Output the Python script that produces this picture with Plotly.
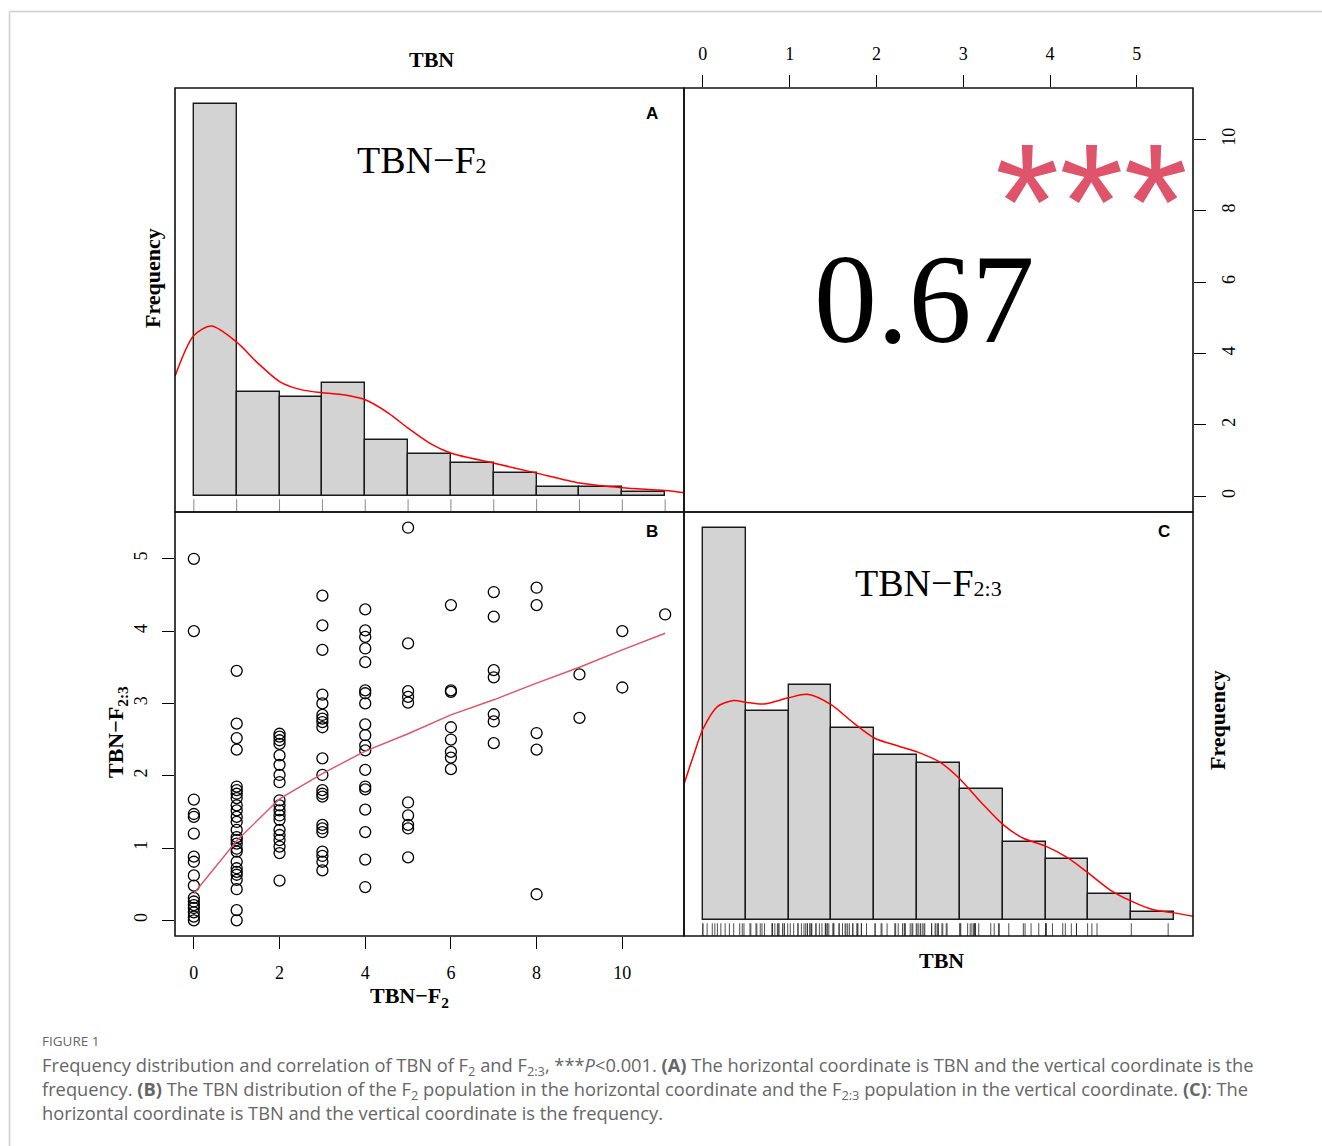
import plotly.graph_objects as go

W, H = 1322, 1146

# ---------------- data ----------------
f2_bin_edges = [0, 1, 2, 3, 4, 5, 6, 7, 8, 9, 10, 11]
f2_counts = [83, 22, 21, 24, 12, 9, 7, 5, 2, 2, 1]

f23_bin_edges = [0, 0.5, 1, 1.5, 2, 2.5, 3, 3.5, 4, 4.5, 5, 5.5]
f23_counts = [45, 24, 27, 22, 19, 18, 15, 9, 7, 3, 1]

# density curves (in count units of each histogram)
f2_dens_x = [-0.44, 0.0, 0.41, 1.0, 1.5, 2.01, 2.52, 3.01, 3.53, 4.0, 4.54, 5.0, 5.51,
             6.01, 7.01, 8.0, 9.01, 10.0, 11.0, 11.47]
f2_dens_y = [25.4, 34.0, 36.0, 32.6, 28.1, 24.2, 22.5, 21.9, 21.4, 20.4, 17.6, 14.4, 11.2,
             9.1, 7.0, 4.9, 2.8, 1.8, 1.2, 0.7]

f23_dens_x = [-0.22, -0.105, 0.0, 0.17, 0.36, 0.5, 0.71, 1.0, 1.22, 1.5, 1.76, 2.0, 2.27,
              2.5, 2.77, 3.0, 3.24, 3.5, 3.74, 4.0, 4.25, 4.5, 4.75, 5.0, 5.26, 5.5, 5.72]
f23_dens_y = [15.6, 19.0, 21.9, 24.5, 25.2, 25.0, 24.8, 25.5, 25.9, 24.7, 22.6, 20.9, 20.0,
              19.3, 18.1, 16.2, 13.6, 11.0, 9.4, 8.5, 7.2, 5.4, 3.5, 2.2, 1.2, 0.85, 0.46]

# scatter: TBN-F2:3 values grouped by TBN-F2 level
f2_levels = [0, 1, 2, 3, 4, 5, 6, 7, 8, 9, 10, 11]
f23_by_f2 = [
    [5.0, 4.0, 1.67, 1.47, 1.43, 1.20, 0.88, 0.81, 0.62, 0.48, 0.31, 0.26, 0.21, 0.17, 0.11, 0.05, 0.0],
    [3.45, 2.72, 2.52, 2.36, 1.85, 1.80, 1.75, 1.69, 1.59, 1.52, 1.43, 1.36, 1.25, 1.15, 1.11, 1.06,
     0.99, 0.95, 0.81, 0.72, 0.67, 0.63, 0.56, 0.43, 0.14, 0.0],
    [2.58, 2.54, 2.49, 2.44, 2.28, 2.15, 2.01, 1.91, 1.66, 1.59, 1.52, 1.45, 1.39, 1.25, 1.18, 1.11,
     1.02, 0.93, 0.55],
    [4.49, 4.08, 3.74, 3.12, 3.0, 2.84, 2.79, 2.74, 2.67, 2.24, 2.01, 1.80, 1.75, 1.71, 1.32, 1.27,
     1.22, 0.95, 0.89, 0.81, 0.69],
    [4.30, 4.01, 3.92, 3.76, 3.57, 3.18, 3.14, 3.00, 2.71, 2.56, 2.42, 2.35, 2.08, 1.85, 1.81, 1.53,
     1.22, 0.84, 0.46],
    [5.43, 3.83, 3.17, 3.09, 3.01, 1.63, 1.45, 1.32, 1.27, 0.87],
    [4.36, 3.18, 3.16, 2.67, 2.50, 2.33, 2.25, 2.09],
    [4.54, 4.20, 3.46, 3.36, 2.85, 2.75, 2.45],
    [4.60, 4.36, 2.59, 2.36, 0.36],
    [3.40, 2.80],
    [4.00, 3.22],
    [4.23],
]

lowess_x = [0, 1, 2, 3, 4, 5, 6, 7, 8, 9, 10, 11]
lowess_y = [0.37, 1.10, 1.68, 2.03, 2.34, 2.58, 2.84, 3.05, 3.28, 3.50, 3.74, 3.97]

correlation_text = "0.67"
signif_text = "***"

top_ticks = [0, 1, 2, 3, 4, 5]
right_ticks = [0, 2, 4, 6, 8, 10]
left_ticks = [0, 1, 2, 3, 4, 5]
bottom_ticks = [0, 2, 4, 6, 8, 10]

caption_lines = [
    "Frequency distribution and correlation of TBN of F<sub>2</sub> and F<sub>2:3</sub>, "
    "***<i>P</i>&lt;0.001. <b>(A)</b> The horizontal coordinate is TBN and the vertical "
    "coordinate is the",
    "frequency. <b>(B)</b> The TBN distribution of the F<sub>2</sub> population in the "
    "horizontal coordinate and the F<sub>2:3</sub> population in the vertical coordinate. "
    "<b>(C)</b>: The",
    "horizontal coordinate is TBN and the vertical coordinate is the frequency.",
]

# ---------------- helpers ----------------
def px(x):
    return x / W


def py(y):
    return 1 - y / H


def ext(lo, hi):
    d = (hi - lo) * 0.04
    return [lo - d, hi + d]


f2_x = []
f23_y = []
for lvl, vals in zip(f2_levels, f23_by_f2):
    for v in vals:
        f2_x.append(lvl)
        f23_y.append(v)

f2_range = ext(min(f2_x), max(f2_x))
f23_range = ext(min(f23_y), max(f23_y))
hA_y = ext(0, max(f2_counts))
hC_y = ext(0, max(f23_counts))
hA_x = ext(f2_bin_edges[0], f2_bin_edges[-1])
hC_x = ext(f23_bin_edges[0], f23_bin_edges[-1])

serif = "Liberation Serif"
sans = "Liberation Sans"

fig = go.Figure()

# ---- panel A histogram ----
fig.add_trace(go.Bar(
    x=[(a + b) / 2 for a, b in zip(f2_bin_edges[:-1], f2_bin_edges[1:])],
    y=f2_counts,
    width=[b - a for a, b in zip(f2_bin_edges[:-1], f2_bin_edges[1:])],
    marker=dict(color="#D3D3D3", line=dict(color="#1a1a1a", width=1.4)),
    xaxis="x", yaxis="y", showlegend=False, hoverinfo="skip"))
fig.add_trace(go.Scatter(x=f2_dens_x, y=f2_dens_y, mode="lines",
                         line=dict(color="#FF0000", width=1.5, shape="spline", smoothing=0.8),
                         xaxis="x", yaxis="y", showlegend=False, hoverinfo="skip"))
rug_len_A = (hA_y[1] - hA_y[0]) * 0.03
rx, ry = [], []
for v in sorted(set(f2_x)):
    rx += [v, v, None]
    ry += [hA_y[0], hA_y[0] + rug_len_A, None]
fig.add_trace(go.Scatter(x=rx, y=ry, mode="lines", line=dict(color="#888888", width=1),
                         xaxis="x", yaxis="y", showlegend=False, hoverinfo="skip"))

# ---- top-right panel (axes only) ----
fig.add_trace(go.Scatter(x=[None], y=[None], xaxis="x2", yaxis="y2", showlegend=False))

# ---- panel B scatter ----
fig.add_trace(go.Scatter(x=f2_x, y=f23_y, mode="markers",
                         marker=dict(symbol="circle-open", size=11, color="black",
                                     line=dict(width=1.3, color="black")),
                         xaxis="x3", yaxis="y3", showlegend=False, hoverinfo="skip"))
fig.add_trace(go.Scatter(x=lowess_x, y=lowess_y, mode="lines",
                         line=dict(color="#DF536B", width=1.4),
                         xaxis="x3", yaxis="y3", showlegend=False, hoverinfo="skip"))

# ---- panel C histogram ----
fig.add_trace(go.Bar(
    x=[(a + b) / 2 for a, b in zip(f23_bin_edges[:-1], f23_bin_edges[1:])],
    y=f23_counts,
    width=[b - a for a, b in zip(f23_bin_edges[:-1], f23_bin_edges[1:])],
    marker=dict(color="#D3D3D3", line=dict(color="#1a1a1a", width=1.4)),
    xaxis="x4", yaxis="y4", showlegend=False, hoverinfo="skip"))
fig.add_trace(go.Scatter(x=f23_dens_x, y=f23_dens_y, mode="lines",
                         line=dict(color="#FF0000", width=1.5, shape="spline", smoothing=0.8),
                         xaxis="x4", yaxis="y4", showlegend=False, hoverinfo="skip"))
rug_len_C = (hC_y[1] - hC_y[0]) * 0.03
rx, ry = [], []
for v in f23_y:
    rx += [v, v, None]
    ry += [hC_y[0], hC_y[0] + rug_len_C, None]
fig.add_trace(go.Scatter(x=rx, y=ry, mode="lines", line=dict(color="#222222", width=0.8),
                         xaxis="x4", yaxis="y4", showlegend=False, hoverinfo="skip"))

hidden = dict(visible=False, showgrid=False, zeroline=False)
tickfont = dict(family=serif, size=18, color="black")
shown = dict(showgrid=False, zeroline=False, showline=False, ticks="outside", ticklen=12,
             tickwidth=1.3, tickcolor="black", tickfont=tickfont)

dxA = [px(175), px(684)]
dxR = [px(684), px(1193)]
dyT = [py(512), py(88)]
dyB = [py(936), py(512)]

fig.update_layout(
    width=W, height=H,
    margin=dict(l=0, r=0, t=0, b=0),
    paper_bgcolor="white", plot_bgcolor="rgba(0,0,0,0)",
    bargap=0,
    xaxis=dict(domain=dxA, range=hA_x, anchor="y", **hidden),
    yaxis=dict(domain=dyT, range=hA_y, anchor="x", **hidden),
    xaxis2=dict(domain=dxR, range=f23_range, anchor="y2", side="top",
                tickvals=top_ticks, ticklabelstandoff=8, **shown),
    yaxis2=dict(domain=dyT, range=f2_range, anchor="x2", side="right",
                tickvals=right_ticks, tickangle=-90, ticklabelstandoff=7, **shown),
    xaxis3=dict(domain=dxA, range=f2_range, anchor="y3", side="bottom",
                tickvals=bottom_ticks, ticklabelstandoff=8, **shown),
    yaxis3=dict(domain=dyB, range=f23_range, anchor="x3", side="left",
                tickvals=left_ticks, tickangle=-90, ticklabelstandoff=8, **shown),
    xaxis4=dict(domain=dxR, range=hC_x, anchor="y4", **hidden),
    yaxis4=dict(domain=dyB, range=hC_y, anchor="x4", **hidden),
)

shapes = []
box_line = dict(color="#111111", width=1.6)
for x0, y0, x1, y1 in [(175, 88, 684, 512), (684, 88, 1193, 512),
                       (175, 512, 684, 936), (684, 512, 1193, 936)]:
    shapes.append(dict(type="rect", xref="paper", yref="paper",
                       x0=px(x0), x1=px(x1), y0=py(y1), y1=py(y0),
                       line=box_line, fillcolor="rgba(0,0,0,0)", layer="above"))
# card border
shapes.append(dict(type="line", xref="paper", yref="paper", x0=px(9.5), x1=px(9.5),
                   y0=0, y1=py(11.5), line=dict(color="#cfcfcf", width=1.5)))
shapes.append(dict(type="line", xref="paper", yref="paper", x0=px(9.5), x1=1,
                   y0=py(11.5), y1=py(11.5), line=dict(color="#cfcfcf", width=1.5)))
fig.update_layout(shapes=shapes)


def ann(text, x, y, size, family=serif, color="black", angle=0, xanchor="center",
        yanchor="middle", align="center"):
    return dict(text=text, x=px(x), y=py(y), xref="paper", yref="paper",
                showarrow=False, textangle=angle, xanchor=xanchor, yanchor=yanchor,
                align=align, font=dict(family=family, size=size, color=color))


small = '<span style="font-size:22px">{}</span>'

annotations = [
    ann("<b>TBN</b>", 431, 60, 22),
    ann("<b>Frequency</b>", 152, 278, 22, angle=-90),
    ann("TBN\u2212F" + small.format("2"), 422, 160, 38),
    ann("<b>A</b>", 652, 113, 17, family=sans),
    ann(correlation_text, 925, 300, 126),
    ann(signif_text, 1091, 202, 165, family=sans, color="#DF536B"),
    ann("<b>B</b>", 652, 531, 17, family=sans),
    ann("<b>C</b>", 1164, 531, 17, family=sans),
    ann("TBN\u2212F" + small.format("2:3"), 928, 583, 38),
    ann("<b>TBN\u2212F<sub>2:3</sub></b>", 117, 732, 22, angle=-90),
    ann("<b>TBN\u2212F<sub>2</sub></b>", 409, 997, 22),
    ann("<b>TBN</b>", 941, 960, 22),
    ann("<b>Frequency</b>", 1217, 720, 22, angle=-90),
]

cap_font = "Open Sans"
cap_color = "#666666"
cap_size = 18.3
annotations += [
    ann("FIGURE 1", 40, 1041, 13.5, family=cap_font, color=cap_color, xanchor="left"),
    ann("<br>".join(caption_lines), 40, 1088, cap_size, family=cap_font, color=cap_color,
        xanchor="left", align="left"),
]
fig.update_layout(annotations=annotations)

fig.write_html("out.html")
